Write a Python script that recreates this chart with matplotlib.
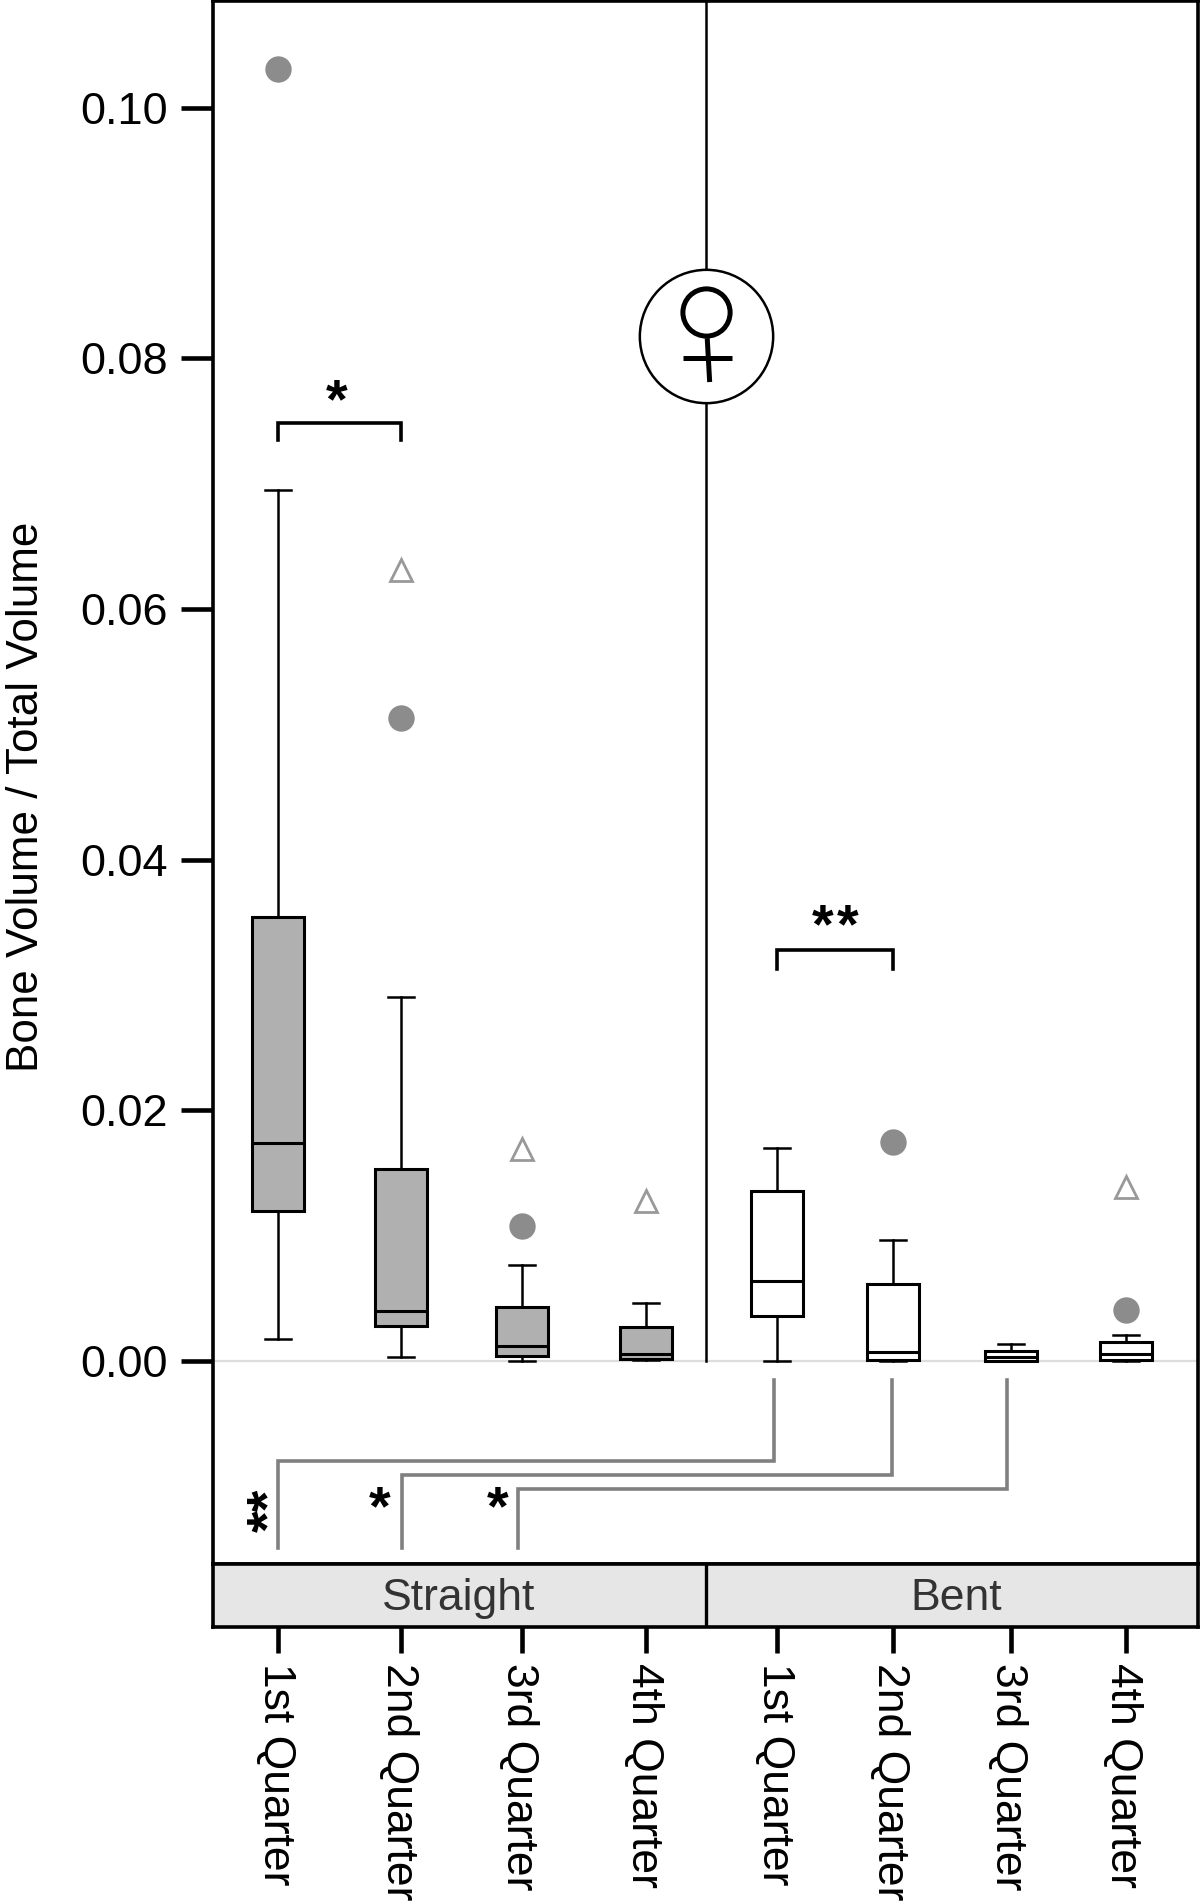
import numpy as np
from matplotlib import pyplot as plt
from matplotlib.transforms import ScaledTranslation

plt.rcParams['font.family'] = ['Liberation Sans', 'DejaVu Sans']

# box stats
group_labels = ["Straight", "Bent"]
quarters = ["1st Quarter", "2nd Quarter", "3rd Quarter", "4th Quarter"] * 2
whis_lo = [0.00175, 0.00034, 0.0000, 0.0001, 0.0000, 0.0000, 0.0000, 0.0000]
q1 = [0.01199, 0.00282, 0.00042, 0.00018, 0.00359, 0.0001, 0.0000, 0.00005]
med = [0.01742, 0.00399, 0.0012, 0.00058, 0.0064, 0.0007, 0.0003, 0.00056]
q3 = [0.0354, 0.01532, 0.00428, 0.00274, 0.01352, 0.00617, 0.0008, 0.0015]
whis_hi = [0.0695, 0.029, 0.00766, 0.00465, 0.017, 0.00965, 0.00137, 0.00207]

# outliers as (box index, value)
circle_idx = [0, 1, 2, 5, 7]
circle_val = [0.1031, 0.0513, 0.01077, 0.0175, 0.00407]
triangle_idx = [1, 2, 3, 7]
triangle_val = [0.0631, 0.0169, 0.0128, 0.0139]

y_ticks = [0.00, 0.02, 0.04, 0.06, 0.08, 0.10]

# the boxes are not evenly spaced in the original
x_pos = np.array([0, 1.003, 1.989, 3.0, 4.068, 5.013, 5.975, 6.913])
x_min, x_max = -0.53, 7.5
x_sep = 3.489
y_min, y_max = -0.0162, 0.1085

W, H = 1200, 1903
fig = plt.figure(figsize=(W / 100, H / 100), dpi=100)
ax = fig.add_axes([213 / W, 1 - 1564 / H, 985 / W, 1563 / H])
strip = fig.add_axes([213 / W, 1 - 1627 / H, 985 / W, 63 / H])

stats = [dict(med=m, q1=a, q3=b, whislo=lo, whishi=hi, fliers=[])
         for m, a, b, lo, hi in zip(med, q1, q3, whis_lo, whis_hi)]
line = dict(color="black", linewidth=1.8)
res = ax.bxp(stats, positions=x_pos, widths=0.424, capwidths=0.21, patch_artist=True,
             manage_ticks=False, showfliers=False,
             boxprops=dict(edgecolor="black", linewidth=2.2),
             medianprops=dict(color="black", linewidth=2.2, solid_capstyle="butt"),
             whiskerprops=line, capprops=line, zorder=3)
for i, box in enumerate(res["boxes"]):
    box.set_facecolor("#b0b0b0" if i < 4 else "white")

ax.plot(x_pos[circle_idx], circle_val, "o", color="#8c8c8c", ms=19, mew=0, zorder=3)
ax.plot(x_pos[triangle_idx], triangle_val, "^", mfc="none", mec="#999999", ms=16, mew=2, zorder=3)

ax.axhline(0, color="#dddddd", lw=1.6, zorder=1)

# female sign on the divider
ax.plot([x_sep, x_sep], [0, y_max], color="black", lw=1.8, zorder=2)
ax.plot(x_sep, 0.0818, "o", mfc="white", mec="black", ms=96, mew=1.8, zorder=4)
ax.plot(x_sep, 0.0837, "o", mfc="none", mec="black", ms=34, mew=3.6, zorder=5)
ax.plot([x_sep + 0.01, x_sep + 0.03], [0.0816, 0.0781], color="black", lw=3.6, solid_capstyle="butt", zorder=5)
ax.plot([3.30, 3.70], [0.0800, 0.0800], color="black", lw=3.6, solid_capstyle="butt", zorder=5)

# significance brackets above the boxes
for a, b, top, drop in [(0, 1, 0.0748, 0.0735), (4, 5, 0.0328, 0.0313)]:
    ax.plot([x_pos[a], x_pos[a], x_pos[b], x_pos[b]], [drop, top, top, drop], color="black", lw=2.6,
            solid_joinstyle="miter")

# grey connectors, bent quarter to straight quarter
conn_right = [4.043, 5.005, 5.943]
conn_left = [0, 1.011, 1.956]
conn_mid = [-0.008, -0.0091, -0.0102]
for r, l, m in zip(conn_right, conn_left, conn_mid):
    ax.plot([r, r, l, l], [-0.0015, m, m, -0.0149], color="#808080", lw=2.6, solid_joinstyle="miter")

# asterisks
star_x = [0.48, 4.44, 4.64, 0.83, 1.79]
star_y = [0.0764, 0.0345, 0.0345, -0.0119, -0.0119]
for sx, sy in zip(star_x, star_y):
    ax.text(sx, sy, "*", fontsize=40, fontweight="bold", ha="center", va="center")
ax.text(-0.06, -0.0119, "**", fontsize=40, fontweight="bold", ha="center", va="center", rotation=90)

ax.set_xlim(x_min, x_max)
ax.set_ylim(y_min, y_max)
ax.set_xticks([])
ax.set_yticks(y_ticks)
ax.set_yticklabels(["%.2f" % v for v in y_ticks])
ax.tick_params(axis="y", length=23, width=3.3, pad=9.5, labelsize=32.5)

strip.set_facecolor("#e6e6e6")
strip.set_xlim(x_min, x_max)
strip.set_ylim(0, 1)
strip.set_yticks([])
strip.set_xticks(x_pos)
strip.set_xticklabels(quarters, rotation=270, ha="center", va="top")
strip.tick_params(axis="x", length=19, width=3.3, pad=7, labelsize=32)
shift = ScaledTranslation(-3 / 100, 0, fig.dpi_scale_trans)
for lab in strip.get_xticklabels():
    lab.set_transform(lab.get_transform() + shift)
strip.axvline(x_sep, color="black", lw=2.4)
strip.text(1.474, 0.46, group_labels[0], fontsize=32, color="#333333", ha="center", va="center")
strip.text(5.525, 0.46, group_labels[1], fontsize=32, color="#333333", ha="center", va="center")

for a in [ax, strip]:
    for s in a.spines.values():
        s.set_linewidth(2.6)

fig.text(27 / W, 1 - 797 / H, "Bone Volume / Total Volume", rotation=90, fontsize=31.7,
         ha="center", va="center")

fig.savefig("out.png", dpi=100)
